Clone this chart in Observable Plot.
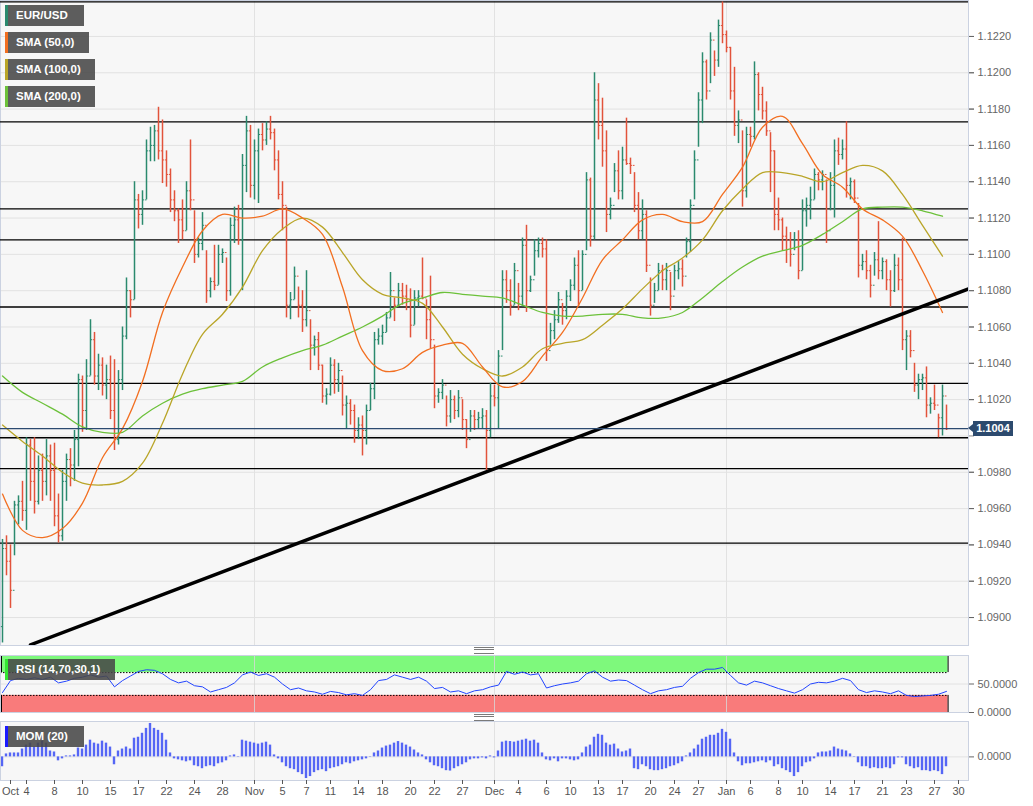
<!DOCTYPE html>
<html>
<head>
<meta charset="utf-8">
<script src="https://cdn.jsdelivr.net/npm/d3@7"></script>
<script src="https://cdn.jsdelivr.net/npm/@observablehq/plot@0.6"></script>
<style>
  body { margin: 0; background: #fff; font-family: "Liberation Sans", Arial, sans-serif; }
  #wrap { position: relative; width: 1033px; height: 806px; overflow: hidden; background: #fff; }
  .panel { position: absolute; left: 0; }
  .lg { position: absolute; left: 5px; height: 21px; background: rgba(72,72,72,0.88); color: #fff;
        font: bold 11.5px "Liberation Sans", Arial, sans-serif; line-height: 21px; padding-left: 8px;
        box-sizing: border-box; border-left: 3px solid; white-space: nowrap; }
  .grip { position: absolute; left: 474px; width: 20px; height: 5px; border-top: 1px solid #7a7a7a; border-bottom: 1px solid #7a7a7a; }
  .grip::after { content: ""; position: absolute; left: 0; right: 0; top: 1px; border-top: 1px solid #7a7a7a; }
  #plabel { position: absolute; left: 973px; width: 40px; height: 15px; background: #2c4a6e; color: #fff;
            font: bold 11px "Liberation Sans", Arial, sans-serif; line-height: 15px; text-align: center; }
  #plabel::before { content: ""; position: absolute; left: -5px; top: 3px; border-top: 4.5px solid transparent;
            border-bottom: 4.5px solid transparent; border-right: 5px solid #2c4a6e; }
</style>
</head>
<body>
<div id="wrap"></div>
<script>
// ---------- DATA (EUR/USD, bars) ----------
const high = [
1.0943,1.0945,1.0940,1.0964,1.0967,1.0975,1.0999,1.0998,1.0999,1.0989,
1.0990,1.0998,1.0995,1.0996,1.0968,1.0981,1.0990,1.0993,1.1003,1.1034,
1.1033,1.1042,1.1064,1.1057,1.1045,1.1043,1.1039,1.1044,1.1042,1.1036,
1.1060,1.1087,1.1080,1.1140,1.1133,1.1135,1.1163,1.1170,1.1171,1.1181,
1.1174,1.1157,1.1147,1.1135,1.1125,1.1130,1.1140,1.1163,1.1124,1.1109,
1.1123,1.1102,1.1087,1.1105,1.1105,1.1103,1.1098,1.1120,1.1126,1.1127,
1.1155,1.1176,1.1171,1.1163,1.1169,1.1172,1.1173,1.1176,1.1169,1.1157,
1.1140,1.1126,1.1079,1.1093,1.1082,1.1080,1.1091,1.1064,1.1055,1.1057,
1.1039,1.1026,1.1043,1.1042,1.1040,1.1033,1.1022,1.1020,1.1017,1.1010,
1.1011,1.1017,1.1029,1.1057,1.1059,1.1061,1.1068,1.1090,1.1076,1.1084,
1.1084,1.1083,1.1081,1.1080,1.1080,1.1098,1.1075,1.1088,1.1050,1.1026,
1.1031,1.1022,1.1025,1.1022,1.1025,1.1020,1.1009,1.1014,1.1014,1.1013,
1.1015,1.1014,1.1029,1.1028,1.1047,1.1091,1.1091,1.1086,1.1095,1.1084,
1.1109,1.1116,1.1088,1.1108,1.1109,1.1109,1.1108,1.1062,1.1069,1.1079,
1.1073,1.1080,1.1086,1.1098,1.1102,1.1102,1.1145,1.1142,1.1200,1.1194,
1.1186,1.1168,1.1131,1.1150,1.1157,1.1159,1.1175,1.1153,1.1145,1.1134,
1.1130,1.1124,1.1087,1.1084,1.1095,1.1094,1.1095,1.1090,1.1094,1.1096,
1.1097,1.1109,1.1130,1.1157,1.1189,1.1211,1.1207,1.1222,1.1212,1.1229,
1.1239,1.1223,1.1214,1.1203,1.1179,1.1168,1.1170,1.1170,1.1206,1.1200,
1.1192,1.1184,1.1167,1.1157,1.1131,1.1120,1.1115,1.1112,1.1112,1.1113,
1.1130,1.1131,1.1137,1.1147,1.1145,1.1146,1.1141,1.1145,1.1163,1.1164,
1.1163,1.1173,1.1142,1.1141,1.1128,1.1100,1.1102,1.1094,1.1101,1.1118,
1.1098,1.1097,1.1091,1.1100,1.1098,1.1109,1.1058,1.1058,1.1040,1.1034,
1.1034,1.1038,1.1021,1.1028,1.1012,1.1028,1.1017];
const low = [
1.0886,1.0923,1.0905,1.0934,1.0951,1.0953,1.0948,1.0964,1.0957,1.0962,
1.0964,1.0967,1.0964,1.0950,1.0941,1.0942,1.0964,1.0972,1.0975,1.0983,
1.1002,1.1003,1.1033,1.1028,1.1025,1.1022,1.1020,1.1009,1.0992,1.0995,
1.1025,1.1053,1.1065,1.1075,1.1114,1.1116,1.1130,1.1151,1.1151,1.1152,
1.1139,1.1137,1.1123,1.1118,1.1106,1.1108,1.1113,1.1124,1.1095,1.1098,
1.1102,1.1073,1.1076,1.1080,1.1083,1.1095,1.1074,1.1077,1.1106,1.1105,
1.1080,1.1134,1.1131,1.1130,1.1128,1.1157,1.1160,1.1163,1.1146,1.1130,
1.1113,1.1065,1.1064,1.1075,1.1065,1.1057,1.1060,1.1036,1.1044,1.1036,
1.1018,1.1017,1.1022,1.1023,1.1024,1.1011,1.1004,1.1006,1.0996,1.0998,
1.0989,1.0995,1.1014,1.1020,1.1050,1.1050,1.1057,1.1065,1.1063,1.1071,
1.1072,1.1069,1.1054,1.1061,1.1071,1.1075,1.1053,1.1048,1.1015,1.1018,
1.1020,1.1005,1.1007,1.1009,1.1010,1.1003,1.0993,1.1002,1.1003,1.1004,
1.1004,1.0981,1.0999,1.1016,1.1004,1.1047,1.1073,1.1066,1.1072,1.1069,
1.1071,1.1068,1.1079,1.1088,1.1098,1.1098,1.1041,1.1050,1.1053,1.1062,
1.1061,1.1064,1.1074,1.1080,1.1071,1.1080,1.1102,1.1104,1.1108,1.1163,
1.1148,1.1112,1.1119,1.1134,1.1130,1.1130,1.1149,1.1144,1.1123,1.1108,
1.1108,1.1090,1.1066,1.1073,1.1080,1.1080,1.1080,1.1069,1.1080,1.1086,
1.1082,1.1098,1.1101,1.1130,1.1159,1.1172,1.1185,1.1194,1.1198,1.1203,
1.1216,1.1211,1.1185,1.1165,1.1161,1.1126,1.1131,1.1159,1.1163,1.1179,
1.1174,1.1165,1.1134,1.1113,1.1113,1.1102,1.1095,1.1093,1.1102,1.1086,
1.1091,1.1115,1.1119,1.1130,1.1135,1.1135,1.1106,1.1124,1.1120,1.1149,
1.1152,1.1131,1.1130,1.1128,1.1087,1.1091,1.1086,1.1076,1.1088,1.1086,
1.1086,1.1080,1.1071,1.1079,1.1080,1.1047,1.1036,1.1043,1.1024,1.1020,
1.1025,1.1010,1.1012,1.1014,1.0999,1.1000,1.1003];
const close = [
1.0938,1.0931,1.0915,1.0962,1.0964,1.0959,1.0995,1.0975,1.0964,1.0981,
1.0975,1.0989,1.0981,1.0956,1.0945,1.0975,1.0987,1.0984,1.0998,1.1031,
1.1014,1.1033,1.1053,1.1033,1.1039,1.1028,1.1031,1.1014,1.0998,1.1031,
1.1055,1.1080,1.1075,1.1130,1.1122,1.1130,1.1157,1.1160,1.1168,1.1157,
1.1152,1.1144,1.1130,1.1124,1.1119,1.1113,1.1135,1.1130,1.1100,1.1106,
1.1116,1.1080,1.1085,1.1083,1.1100,1.1101,1.1080,1.1116,1.1119,1.1108,
1.1149,1.1168,1.1138,1.1157,1.1166,1.1163,1.1169,1.1167,1.1152,1.1133,
1.1127,1.1072,1.1075,1.1088,1.1072,1.1064,1.1069,1.1050,1.1053,1.1039,
1.1022,1.1023,1.1039,1.1031,1.1036,1.1017,1.1018,1.1014,1.1003,1.1006,
1.1003,1.1014,1.1026,1.1053,1.1055,1.1057,1.1065,1.1080,1.1072,1.1080,
1.1077,1.1075,1.1061,1.1076,1.1077,1.1076,1.1064,1.1053,1.1022,1.1024,
1.1028,1.1011,1.1020,1.1014,1.1021,1.1009,1.0998,1.1011,1.1009,1.1010,
1.1011,1.1003,1.1022,1.1021,1.1044,1.1086,1.1080,1.1072,1.1091,1.1077,
1.1105,1.1080,1.1086,1.1102,1.1106,1.1103,1.1047,1.1058,1.1064,1.1075,
1.1069,1.1077,1.1083,1.1094,1.1080,1.1100,1.1141,1.1110,1.1185,1.1171,
1.1157,1.1122,1.1127,1.1146,1.1135,1.1152,1.1150,1.1149,1.1127,1.1113,
1.1122,1.1094,1.1072,1.1080,1.1091,1.1086,1.1091,1.1077,1.1091,1.1092,
1.1088,1.1107,1.1127,1.1152,1.1185,1.1206,1.1190,1.1218,1.1207,1.1226,
1.1221,1.1214,1.1190,1.1171,1.1174,1.1135,1.1166,1.1165,1.1199,1.1188,
1.1179,1.1168,1.1157,1.1122,1.1119,1.1110,1.1108,1.1100,1.1108,1.1091,
1.1124,1.1127,1.1130,1.1144,1.1141,1.1144,1.1113,1.1138,1.1157,1.1155,
1.1158,1.1138,1.1140,1.1131,1.1094,1.1096,1.1091,1.1083,1.1097,1.1091,
1.1096,1.1086,1.1080,1.1094,1.1086,1.1053,1.1055,1.1047,1.1028,1.1031,
1.1032,1.1017,1.1018,1.1017,1.1010,1.1022,1.1004];
const firstOpen = 1.0895;

// Moving averages, one value every 5 bars
const smaStep = 5;
const sma50 = [1.0968,1.0948,1.0944,1.0949,1.0963,1.0988,1.1004,1.1030,1.1068,1.1093,
  1.1113,1.1122,1.1120,1.1121,1.1125,1.1120,1.1111,1.1082,1.1047,1.1036,
  1.1037,1.1046,1.1050,1.1051,1.1038,1.1027,1.1030,1.1044,1.1057,1.1076,
  1.1097,1.1108,1.1119,1.1122,1.1118,1.1118,1.1133,1.1148,1.1170,1.1176,
  1.1161,1.1144,1.1137,1.1125,1.1119,1.1110,1.1091,1.1068];
const sma100 = [1.1006,1.0997,1.0989,1.0980,1.0974,1.0973,1.0975,1.0985,1.1007,1.1034,
  1.1056,1.1067,1.1082,1.1102,1.1114,1.1120,1.1115,1.1101,1.1086,1.1078,
  1.1076,1.1073,1.1060,1.1045,1.1037,1.1033,1.1038,1.1048,1.1051,1.1053,
  1.1061,1.1070,1.1081,1.1091,1.1098,1.1108,1.1124,1.1136,1.1145,1.1145,
  1.1143,1.1140,1.1145,1.1149,1.1146,1.1133,1.1116,1.1099];
const sma200 = [1.1033,1.1024,1.1018,1.1012,1.1005,1.1002,1.1002,1.1011,1.1018,1.1023,
  1.1026,1.1028,1.1030,1.1038,1.1043,1.1047,1.1050,1.1055,1.1060,1.1066,
  1.1073,1.1076,1.1079,1.1078,1.1077,1.1076,1.1072,1.1068,1.1066,1.1066,
  1.1067,1.1067,1.1065,1.1065,1.1068,1.1076,1.1085,1.1093,1.1099,1.1102,
  1.1105,1.1111,1.1118,1.1125,1.1126,1.1126,1.1124,1.1121];

// RSI (14,70,30,1), one value every 2 bars
const rsiStep = 2;
const rsi = [35,56,60,58,61,58,62,52,55,60,
  62,66,62,64,45,56,64,72,75,74,
  68,58,52,55,47,45,36,40,44,52,
  66,71,65,68,62,50,40,43,38,36,
  32,37,35,31,33,30,40,56,58,66,
  62,58,62,55,42,44,36,38,33,38,
  40,45,48,72,67,71,66,68,43,47,
  50,52,55,68,73,62,55,57,56,48,
  40,33,38,40,44,46,60,70,76,76,
  79,65,52,48,55,52,47,42,38,34,
  40,50,53,52,55,60,56,40,35,38,
  36,33,38,30,28,29,30,32,37];
const rsiUpper = 70, rsiLower = 30;

// MOM (20), one value per bar
const mom = [
-0.005,0.0015,0.002,0.002,0.002,0.004,0.006,0.007,0.005,0.007,
0.008,0.007,0.003,0.0025,-0.002,-0.001,0.0005,0.0005,0.001,0.0045,
0.004,0.006,0.0085,0.007,0.0065,0.008,0.007,0.005,-0.004,0.003,
0.004,0.005,0.004,0.0095,0.010,0.012,0.0145,0.017,0.0145,0.0135,
0.012,0.0085,0.002,-0.001,-0.0015,-0.002,-0.0025,-0.002,-0.0045,-0.005,
-0.006,-0.005,-0.0045,-0.005,-0.0035,-0.003,-0.002,0.0005,0.001,0.0002,
0.0085,0.008,0.0075,0.007,0.0065,0.007,0.0075,0.006,0.001,-0.001,
-0.003,-0.005,-0.006,-0.0065,-0.008,-0.009,-0.011,-0.010,-0.008,-0.007,
-0.0065,-0.0075,-0.006,-0.0055,-0.005,-0.004,-0.003,-0.0035,-0.0025,-0.002,
-0.0015,-0.001,0.0002,0.002,0.003,0.0045,0.0055,0.006,0.007,0.0078,
0.007,0.006,0.005,0.0035,0.002,0.001,-0.0015,-0.003,-0.0045,-0.005,
-0.006,-0.007,-0.0072,-0.006,-0.005,-0.004,-0.003,-0.0015,-0.001,-0.001,
-0.0005,-0.001,0.0005,-0.0005,0.003,0.0075,0.008,0.0078,0.0075,0.008,
0.0085,0.009,0.008,0.0085,0.007,0.002,-0.0015,-0.002,-0.001,-0.0025,
-0.001,-0.001,-0.0015,-0.002,-0.0015,0.002,0.005,0.006,0.010,0.0115,
0.011,0.007,0.006,0.0065,0.004,0.0025,0.003,0.004,-0.006,-0.0065,
-0.004,-0.005,-0.0065,-0.007,-0.007,-0.0065,-0.006,-0.005,-0.0045,-0.0035,
-0.0025,0.0005,0.002,0.004,0.006,0.009,0.010,0.011,0.011,0.012,
0.014,0.0125,0.009,0.002,-0.0025,-0.0045,-0.0035,-0.0035,-0.003,-0.0025,
-0.002,-0.003,-0.002,-0.005,-0.004,-0.006,-0.007,-0.008,-0.010,-0.008,
-0.005,-0.003,-0.0025,-0.001,0.002,0.0025,0.0025,0.003,0.005,0.004,
0.0035,0.003,0.0015,0.0002,-0.003,-0.005,-0.005,-0.006,-0.0055,-0.006,
-0.006,-0.0055,-0.006,-0.004,-0.0005,-0.0005,-0.004,-0.005,-0.006,-0.0055,
-0.007,-0.007,-0.0075,-0.007,-0.0075,-0.009,-0.005];

// Drawn horizontal levels, trend line, last price
const levels = [1.1239, 1.1173, 1.1125, 1.1108, 1.1071, 1.1029, 1.0999, 1.0982, 1.0941];
const trendIdx = [7, 241.5];
const trendPrice = [1.0885, 1.1081];
const lastPrice = 1.1004;

// Axes (the 1.1000 label sits under the last-price tag, so only its tick and grid line are drawn)
const priceTicks = [1.0900,1.0920,1.0940,1.0960,1.0980,1.1000,1.1020,1.1040,1.1060,1.1080,
  1.1100,1.1120,1.1140,1.1160,1.1180,1.1200,1.1220];
const tickIdx = [2,6,13,20,27,34,41,48,55, 63,70,76,82,89,95,102,108,115,
  123,129,136,142,149,155,162,168,174, 181,187,194,200,207,213,220,226,233,239];
const tickLabels = ["Oct","4","8","10","15","17","22","24","28",
  "Nov","5","7","11","14","18","20","22","27",
  "Dec","4","6","10","13","17","20","24","27",
  "Jan","6","8","10","14","17","21","23","27","30"];
const monthIdx = [63, 123, 181];

const legendNames = ["EUR/USD", "SMA (50,0)", "SMA (100,0)", "SMA (200,0)"];
const legendColors = ["#2b8a6e", "#f26f21", "#b9a528", "#6cc13a"];

// ---------- DRAWING ----------
const W = 1033, MR = 65;
const GREEN = "#2b8a6e", RED = "#e2533b";
const FONT = '"Liberation Sans", Arial, sans-serif';
const baseStyle = {background: "transparent", fontFamily: FONT, fontSize: "11px", overflow: "visible"};
const xOpt = {domain: [-0.5, 241.5], axis: null};
const lastIdx = close.length - 1;
const zoneEnd = lastIdx + 0.4;
const fmt4 = d3.format(".4f");
const GRID = "#e2e2e2", BORDER = "#cbd2e1";

const bars = high.map((h, i) => ({i, high: h, low: low[i], close: close[i], open: i ? close[i - 1] : firstOpen}));
const up = bars.filter(d => d.close >= d.open);
const dn = bars.filter(d => d.close < d.open);
const smaSeries = vals => vals.map((v, k) => ({x: k * smaStep, y: v}));
const trend = trendIdx.map((x, k) => ({x, y: trendPrice[k]}));
const labelledPrice = priceTicks.filter(t => Math.abs(t - lastPrice) > 0.0008);

const wrap = document.getElementById("wrap");
function place(el, top) { const d = document.createElement("div"); d.className = "panel"; d.style.top = top + "px"; d.appendChild(el); wrap.appendChild(d); }

const mainPlot = Plot.plot({
  width: W, height: 646, marginTop: 0, marginRight: MR, marginBottom: 1, marginLeft: 0,
  style: baseStyle, x: xOpt,
  y: {domain: [1.08846, 1.12398], axis: null},
  marks: [
    Plot.frame({fill: "#f7f7f7", stroke: "none"}),
    Plot.gridY(priceTicks, {stroke: GRID, strokeOpacity: 1}),
    Plot.ruleX(monthIdx, {stroke: GRID, strokeOpacity: 1}),
    Plot.frame({stroke: BORDER}),
    Plot.axisY(priceTicks, {anchor: "right", tickSize: 5, tickPadding: 4, text: null, label: null, color: "#888"}),
    Plot.axisY(labelledPrice, {anchor: "right", tickSize: 5, tickPadding: 4, tickFormat: fmt4, label: null, color: "#666", fontSize: 11}),
    Plot.ruleY(levels, {stroke: "#000", strokeWidth: 1.3}),
    Plot.ruleX(up, {x: "i", y1: "low", y2: "high", stroke: GREEN, strokeWidth: 1.5}),
    Plot.ruleX(dn, {x: "i", y1: "low", y2: "high", stroke: RED, strokeWidth: 1.5}),
    Plot.link(up, {x1: d => d.i - 0.4, x2: "i", y1: "open", y2: "open", stroke: GREEN}),
    Plot.link(up, {x1: "i", x2: d => d.i + 0.4, y1: "close", y2: "close", stroke: GREEN}),
    Plot.link(dn, {x1: d => d.i - 0.4, x2: "i", y1: "open", y2: "open", stroke: RED}),
    Plot.link(dn, {x1: "i", x2: d => d.i + 0.4, y1: "close", y2: "close", stroke: RED}),
    Plot.line(smaSeries(sma200), {x: "x", y: "y", stroke: legendColors[3], strokeWidth: 1.3, curve: "catmull-rom"}),
    Plot.line(smaSeries(sma100), {x: "x", y: "y", stroke: legendColors[2], strokeWidth: 1.3, curve: "catmull-rom"}),
    Plot.line(smaSeries(sma50), {x: "x", y: "y", stroke: legendColors[1], strokeWidth: 1.3, curve: "catmull-rom"}),
    Plot.line(trend, {x: "x", y: "y", stroke: "#000", strokeWidth: 3.5, clip: true}),
    Plot.ruleY([lastPrice], {stroke: "#2c4a70", strokeWidth: 1.2})
  ]
});
place(mainPlot, 0);

const rsiData = rsi.map((v, k) => ({x: k * rsiStep, y: v}));
const zoneEdges = [{a: rsiUpper, b: 100}, {a: 0, b: rsiLower}];
const rsiPlot = Plot.plot({
  width: W, height: 66, marginTop: 0, marginRight: MR, marginBottom: 9, marginLeft: 0,
  style: baseStyle, x: xOpt,
  y: {domain: [0, 100], axis: null},
  marks: [
    Plot.frame({fill: "#f7f7f7", stroke: "none"}),
    Plot.rect([0], {x1: -0.5, x2: zoneEnd, y1: rsiUpper, y2: 100, fill: "#7ef97c"}),
    Plot.rect([0], {x1: -0.5, x2: zoneEnd, y1: 0, y2: rsiLower, fill: "#f97b7b"}),
    Plot.gridY([50], {stroke: GRID, strokeOpacity: 1}),
    Plot.ruleX(monthIdx, {stroke: "#d8d8d8", strokeOpacity: 0.8}),
    Plot.ruleY([rsiUpper, rsiLower], {x1: -0.5, x2: zoneEnd, stroke: "#000", strokeDasharray: "1.5,1.5"}),
    Plot.ruleX(zoneEdges, {x: zoneEnd, y1: "a", y2: "b", stroke: "#000"}),
    Plot.ruleX(zoneEdges, {x: -0.25, y1: "a", y2: "b", stroke: "#000"}),
    Plot.line(rsiData, {x: "x", y: "y", stroke: "#2244ff", strokeWidth: 1}),
    Plot.frame({stroke: BORDER}),
    Plot.axisY([0, 50], {anchor: "right", tickSize: 5, tickPadding: 4, tickFormat: fmt4, label: null, color: "#666", fontSize: 11})
  ]
});
place(rsiPlot, 655);

const momData = mom.map((v, i) => ({i, v}));
const labelOf = new Map(tickIdx.map((d, k) => [d, tickLabels[k]]));
const momPlot = Plot.plot({
  width: W, height: 85, marginTop: 0, marginRight: MR, marginBottom: 26, marginLeft: 0,
  style: baseStyle, x: xOpt,
  y: {domain: [-0.012, 0.018], axis: null},
  marks: [
    Plot.frame({fill: "#f7f7f7", stroke: "none"}),
    Plot.gridY([0], {stroke: GRID, strokeOpacity: 1}),
    Plot.ruleX(monthIdx, {stroke: GRID, strokeOpacity: 1}),
    Plot.rect(momData, {x1: d => d.i - 0.3, x2: d => d.i + 0.3, y1: 0, y2: "v", fill: "#5566f5"}),
    Plot.frame({stroke: BORDER}),
    Plot.axisY([0], {anchor: "right", tickSize: 5, tickPadding: 4, tickFormat: fmt4, label: null, color: "#666", fontSize: 11}),
    Plot.axisX(tickIdx, {anchor: "bottom", tickSize: 4, tickPadding: 3, tickFormat: d => labelOf.get(d), label: null, color: "#555", fontSize: 11})
  ]
});
place(momPlot, 721);

// Legends
function legend(text, color, top, width) {
  const d = document.createElement("div");
  d.className = "lg"; d.textContent = text;
  d.style.top = top + "px"; d.style.width = width + "px"; d.style.borderLeftColor = color;
  wrap.appendChild(d);
}
const lgWidths = [79, 84, 90, 90];
legendNames.forEach((n, k) => legend(n, legendColors[k], 5 + 27 * k, lgWidths[k]));
legend("RSI (14,70,30,1)", "#33e633", 659, 110);
legend("MOM (20)", "#1a1aff", 726, 79);

// Grips between panels
[647, 714].forEach(t => { const g = document.createElement("div"); g.className = "grip"; g.style.top = t + "px"; wrap.appendChild(g); });

// Last price label
const pl = document.createElement("div");
pl.id = "plabel";
pl.textContent = fmt4(lastPrice);
pl.style.top = (mainPlot.scale("y").apply(lastPrice) - 7.5) + "px";
wrap.appendChild(pl);
</script>
</body>
</html>
